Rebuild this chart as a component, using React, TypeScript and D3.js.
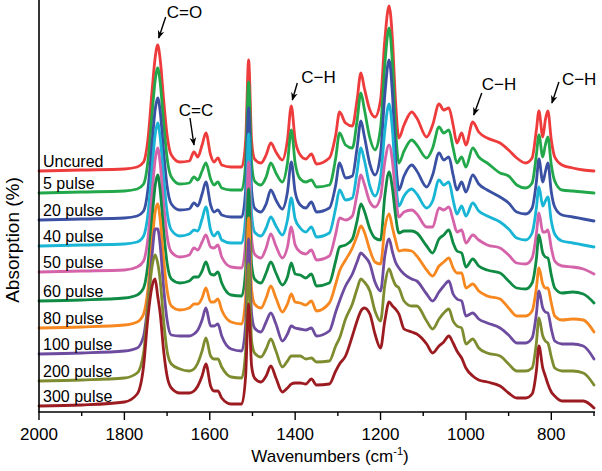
import * as d3 from 'd3';

// FTIR spectra, stacked. Heights above each trace's own baseline.
const WAVENUMBERS = [
  2000, 1900, 1800, 1770, 1755, 1745, 1735, 1728, 1722, 1716,
  1708, 1700, 1690, 1670, 1648, 1637, 1628, 1618, 1609, 1598,
  1590, 1581, 1572, 1550, 1525, 1516, 1509, 1502, 1495, 1480,
  1468, 1457, 1445, 1430, 1418, 1409, 1400, 1388, 1375, 1362,
  1350, 1320, 1305, 1296, 1282, 1266, 1255, 1246, 1238, 1225,
  1213, 1200, 1190, 1180, 1172, 1165, 1157, 1145, 1127, 1115,
  1092, 1078, 1063, 1052, 1040, 1030, 1021, 1010, 1000, 984,
  970, 950, 920, 900, 881, 860, 845, 835, 829, 820,
  814, 808, 800, 792, 775, 750, 725, 700,
];

const LABELS = ['Uncured', '5 pulse', '20 pulse', '40 pulse', '50 pulse', '60 pulse', '80 pulse', '100 pulse', '200 pulse', '300 pulse'];
const COLORS = ['#ee3b3b', '#22a84a', '#3a50a2', '#18b5d5', '#d463a9', '#0f8b44', '#f7871f', '#6d4c9f', '#7e8b2f', '#9c1b20'];
const OFFSETS = [241, 219, 192, 166, 140, 111, 84, 58, 31, 6];

const UNCURED = [0, 1, 2, 4, 9, 31, 81, 113, 126, 111, 71, 36, 16, 9, 10, 19, 14, 26, 38, 16, 9, 13, 6, 4, 4, 30, 111, 30, 12, 8, 16, 28, 19, 11, 31, 65, 31, 16, 12, 17, 7, 13, 36, 59, 48, 45, 71, 98, 83, 61, 54, 71, 131, 165, 131, 71, 33, 46, 59, 53, 34, 46, 67, 61, 63, 46, 28, 38, 26, 49, 39, 33, 28, 21, 13, 8, 13, 41, 60, 34, 51, 60, 31, 14, 6, 3, 1, 0];
const P5 = [0, 1, 2, 4, 9, 31, 80, 112, 125, 110, 70, 35, 16, 9, 10, 16, 13, 22, 30, 14, 8, 11, 5, 3, 3, 30, 111, 30, 12, 8, 16, 30, 20, 11, 30, 63, 30, 14, 11, 13, 6, 8, 35, 60, 48, 45, 72, 100, 84, 55, 43, 65, 128, 165, 128, 66, 30, 42, 53, 48, 35, 45, 66, 60, 63, 45, 30, 36, 26, 45, 36, 30, 20, 17, 8, 5, 10, 38, 58, 36, 48, 56, 28, 12, 3, 2, 1, 0];
const P20 = [0, 1, 2, 4, 9, 30, 78, 110, 122, 108, 68, 34, 16, 10, 11, 17, 14, 26, 38, 15, 8, 10, 5, 3, 3, 30, 112, 30, 12, 8, 16, 30, 20, 11, 28, 58, 28, 15, 12, 18, 8, 12, 35, 57, 42, 44, 72, 99, 84, 56, 45, 66, 125, 160, 125, 64, 30, 44, 55, 49, 33, 45, 67, 60, 63, 45, 30, 38, 28, 45, 36, 30, 23, 17, 8, 6, 12, 38, 61, 38, 48, 57, 28, 13, 5, 3, 1, -1];
const P40 = [0, 1, 2, 4, 10, 31, 79, 111, 123, 108, 68, 34, 16, 10, 12, 16, 15, 27, 39, 16, 10, 14, 6, 3, 3, 30, 112, 32, 14, 10, 18, 29, 20, 11, 26, 48, 27, 18, 14, 19, 9, 13, 38, 56, 46, 48, 74, 98, 86, 60, 50, 68, 115, 142, 115, 68, 40, 50, 57, 52, 38, 45, 66, 61, 64, 46, 32, 40, 30, 43, 35, 30, 24, 17, 8, 6, 13, 38, 59, 40, 45, 49, 25, 12, 5, 3, 1, -1];
const P50 = [0, 1, 2, 5, 11, 33, 80, 112, 124, 108, 68, 36, 20, 15, 17, 24, 22, 30, 37, 25, 24, 27, 15, 5, 4, 30, 110, 33, 18, 14, 24, 38, 26, 14, 25, 45, 27, 20, 18, 22, 12, 16, 38, 54, 52, 56, 78, 97, 88, 70, 65, 75, 110, 127, 110, 78, 55, 60, 62, 58, 45, 45, 64, 62, 65, 52, 40, 42, 29, 37, 32, 27, 24, 17, 9, 8, 14, 38, 59, 40, 40, 42, 24, 11, 6, 5, 3, -2];
const P60 = [0, 1, 3, 6, 13, 36, 84, 115, 126, 110, 70, 38, 22, 18, 20, 24, 24, 30, 39, 27, 26, 29, 18, 6, 5, 31, 112, 36, 22, 18, 28, 39, 28, 16, 24, 38, 27, 26, 23, 27, 15, 18, 40, 54, 56, 62, 80, 97, 90, 72, 63, 61, 105, 129, 112, 86, 68, 70, 70, 68, 55, 48, 62, 66, 71, 58, 50, 48, 34, 42, 35, 31, 28, 20, 13, 12, 18, 42, 66, 48, 44, 43, 26, 13, 8, 9, 7, -2];
const P80 = [0, 1, 3, 6, 14, 38, 86, 116, 124, 108, 68, 38, 22, 18, 20, 24, 24, 30, 40, 26, 26, 29, 18, 6, 4, 31, 110, 38, 24, 20, 30, 42, 30, 16, 24, 34, 26, 25, 23, 27, 17, 25, 44, 57, 68, 80, 92, 102, 96, 78, 66, 64, 100, 114, 100, 88, 77, 78, 77, 72, 58, 52, 62, 66, 70, 60, 55, 55, 40, 44, 37, 32, 29, 20, 12, 12, 17, 40, 60, 44, 40, 40, 25, 12, 8, 9, 8, -4];
const P100 = [0, 1, 3, 6, 18, 50, 100, 125, 125, 108, 66, 34, 19, 18, 18, 20, 24, 34, 46, 28, 28, 30, 18, 5, 3, 30, 115, 40, 26, 22, 32, 41, 30, 13, 20, 28, 26, 25, 24, 26, 18, 23, 42, 53, 68, 80, 92, 101, 98, 90, 72, 63, 98, 115, 102, 92, 86, 80, 75, 73, 60, 53, 62, 68, 73, 60, 55, 53, 38, 41, 35, 31, 26, 19, 11, 11, 16, 40, 63, 46, 42, 41, 25, 13, 10, 10, 8, -5];
const P200 = [0, 1, 3, 8, 28, 75, 115, 126, 118, 100, 60, 30, 17, 12, 10, 12, 18, 30, 43, 25, 22, 22, 14, 4, 3, 30, 117, 40, 28, 24, 32, 42, 30, 14, 20, 25, 25, 25, 22, 23, 19, 20, 35, 43, 62, 77, 92, 102, 99, 90, 70, 60, 96, 112, 103, 96, 93, 80, 75, 75, 60, 52, 62, 68, 72, 60, 55, 53, 37, 42, 33, 28, 25, 17, 10, 10, 13, 38, 63, 45, 40, 38, 24, 13, 10, 10, 8, -4];
const P300 = [0, 1, 4, 12, 40, 88, 120, 127, 110, 92, 55, 30, 18, 13, 13, 15, 20, 30, 42, 20, 15, 15, 8, 2, 2, 30, 102, 40, 28, 24, 30, 40, 28, 14, 18, 22, 23, 23, 22, 27, 21, 22, 35, 42, 50, 70, 85, 95, 98, 92, 72, 58, 85, 104, 100, 97, 92, 77, 74, 72, 62, 53, 60, 64, 70, 63, 55, 48, 38, 30, 26, 24, 20, 13, 8, 8, 12, 35, 60, 38, 30, 22, 14, 10, 5, 5, 5, -2];

const SPECTRA = [UNCURED, P5, P20, P40, P50, P60, P80, P100, P200, P300];

const MAJOR_TICKS = [2000, 1800, 1600, 1400, 1200, 1000, 800];
const MINOR_TICKS = [1900, 1700, 1500, 1300, 1100, 900, 700];

// band assignments marked on the uncured trace
const ANNOTATION_TEXT = ['C=O', 'C=C', 'C\u2212H', 'C\u2212H', 'C\u2212H'];
const ANNOTATION_BANDS = [1722, 1637, 1409, 984, 808];
// arrow tip offset from peak, tail offset from tip, text offset from tail
const ANNOTATION_LAYOUT = [
  { tip: [1, -7], tail: [7, -21], text: [1, 1], anchor: 'start' },
  { tip: [0, -7], tail: [-4, -27], text: [6, -2], anchor: 'middle' },
  { tip: [1, -6], tail: [5, -17], text: [4, 0], anchor: 'start' },
  { tip: [1, -7], tail: [8, -22], text: [0, -3], anchor: 'start' },
  { tip: [4, -8], tail: [7, -21], text: [3, 3], anchor: 'start' },
];

const W = 602;
const H = 471;
// no serif face is available in the sandbox, so use an Arial-metric sans
const FONT = 'Liberation Sans, Arial, sans-serif';

export default function App() {
  const x = d3.scaleLinear().domain([2000, 700]).range([39, 594]);
  const y = d3.scaleLinear().domain([0, 412]).range([412, 0]);
  const bottom = y(0);

  const line = d3
    .line<[number, number]>()
    .x(d => x(d[0]))
    .y(d => y(d[1]))
    .curve(d3.curveMonotoneX);

  return (
    <svg
      width={W}
      height={H}
      fontFamily={FONT}
      style={{ position: 'absolute', left: 0, top: 0, background: '#fff' }}
    >
      <defs>
        <marker id="arrow" viewBox="0 0 10 10" refX="9" refY="5" markerWidth="6" markerHeight="6" orient="auto">
          <path d="M0,1 L10,5 L0,9 L3,5 Z" fill="#000" />
        </marker>
      </defs>

      {SPECTRA.map((vals, i) => {
        const pts = WAVENUMBERS.map((w, j) => [w, vals[j] + OFFSETS[i]] as [number, number]);
        return (
          <path
            key={LABELS[i]}
            d={line(pts) ?? ''}
            fill="none"
            stroke={COLORS[i]}
            strokeWidth={2.8}
            strokeLinejoin="round"
            strokeLinecap="round"
          />
        );
      })}

      {LABELS.map((label, i) => (
        <text key={label} x={43} y={y(OFFSETS[i]) - 4} fontSize={16} fill="#000">
          {label}
        </text>
      ))}

      {ANNOTATION_BANDS.map((band, i) => {
        const j = WAVENUMBERS.indexOf(band);
        const px = x(band);
        const py = y(UNCURED[j] + OFFSETS[0]);
        const lay = ANNOTATION_LAYOUT[i];
        const tipX = px + lay.tip[0];
        const tipY = py + lay.tip[1];
        const tailX = tipX + lay.tail[0];
        const tailY = tipY + lay.tail[1];
        return (
          <g key={i}>
            <line x1={tailX} y1={tailY} x2={tipX} y2={tipY} stroke="#000" strokeWidth={1.4} markerEnd="url(#arrow)" />
            <text x={tailX + lay.text[0]} y={tailY + lay.text[1]} fontSize={17} textAnchor={lay.anchor}>
              {ANNOTATION_TEXT[i]}
            </text>
          </g>
        );
      })}

      {/* axes */}
      <line x1={39} y1={0} x2={39} y2={bottom} stroke="#000" strokeWidth={1.6} />
      <line x1={38.2} y1={bottom} x2={595} y2={bottom} stroke="#000" strokeWidth={1.6} />
      {MAJOR_TICKS.map(t => (
        <g key={t}>
          <line x1={x(t)} x2={x(t)} y1={bottom} y2={bottom + 8} stroke="#000" strokeWidth={1.4} />
          <text x={x(t)} y={bottom + 28} fontSize={17} textAnchor="middle">
            {t}
          </text>
        </g>
      ))}
      {MINOR_TICKS.map(t => (
        <line key={t} x1={x(t)} x2={x(t)} y1={bottom} y2={bottom + 4} stroke="#000" strokeWidth={1.4} />
      ))}

      <text x={330} y={462} fontSize={17} textAnchor="middle">
        Wavenumbers (cm
        <tspan fontSize={11} dy={-7}>-1</tspan>
        <tspan dy={7}>)</tspan>
      </text>
      <text transform="translate(19,240) rotate(-90)" fontSize={19} textAnchor="middle">
        Absorption (%)
      </text>
    </svg>
  );
}
